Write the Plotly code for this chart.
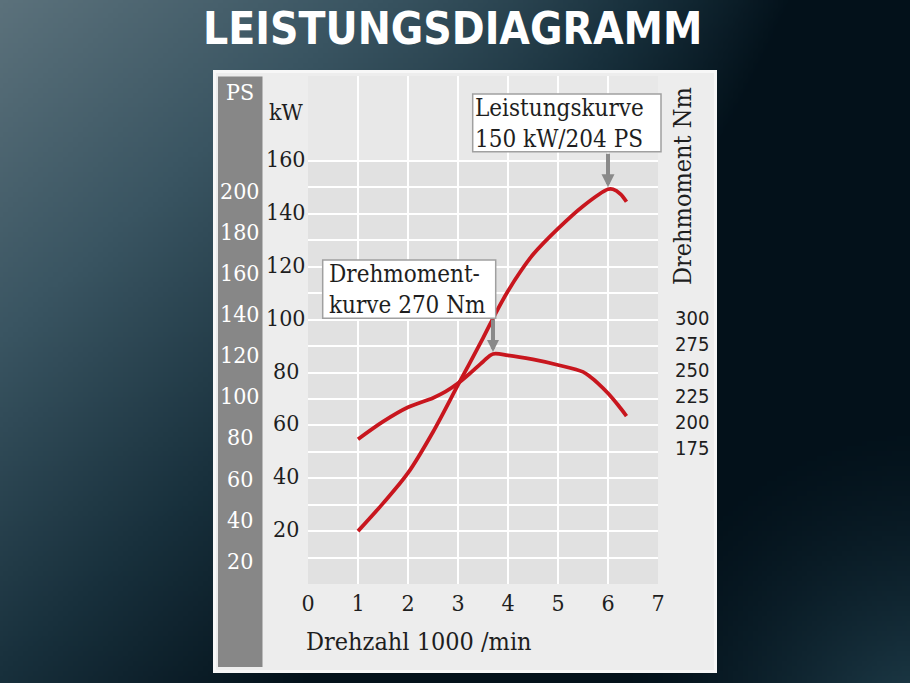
import base64, struct, zlib
import numpy as np
import plotly.graph_objects as go

# ---------------- data ----------------
rpm_power = [1.0, 1.5, 2.0, 2.5, 3.0, 3.5, 3.75, 4.0, 4.25, 4.5, 5.0, 5.5, 6.0, 6.1, 6.25, 6.37]
power_kw = [20.0, 30.5, 42.0, 57.5, 75.3, 93.0, 102.3, 110.8, 118.2, 124.6, 134.4, 142.9, 149.3, 149.3, 147.5, 144.6]

rpm_torque = [1.0, 1.5, 2.0, 2.5, 2.75, 3.0, 3.25, 3.5, 3.7, 4.0, 4.5, 5.0, 5.5, 5.65, 5.8, 6.0, 6.2, 6.37]
torque_nm = [183.7, 200.6, 214.4, 223.4, 229.4, 237.5, 247.5, 258.3, 265.7, 264.4, 260.4, 255.1, 248.5,
             243.5, 237.5, 227.9, 216.6, 206.0]

x_ticks = [0, 1, 2, 3, 4, 5, 6, 7]
kw_labels = [20, 40, 60, 80, 100, 120, 140, 160]
kw_grid = list(range(0, 161, 10))
ps_labels = [20, 40, 60, 80, 100, 120, 140, 160, 180, 200]
nm_labels = [175, 200, 225, 250, 275, 300]

title_text = "LEISTUNGSDIAGRAMM"
power_note = ["Leistungskurve", "150 kW/204 PS"]
torque_note = ["Drehmoment-", "kurve 270 Nm"]
power_peak = (6.0, 149.3)
torque_peak = (3.7, 265.7)

# ---------------- layout geometry ----------------
FW, FH = 910, 683
L, R, T, B = 308, 252, 76, 99
PW, PH = FW - L - R, FH - T - B


def px(x):
    return (x - L) / PW


def py(y):
    return (FH - B - y) / PH


SERIF = "DejaVu Serif Condensed, DejaVu Serif, serif"
NARROW = "DejaVu Sans Condensed, sans-serif"
TXT = "#1e1e1e"
RED = "#c8161e"

# ---------------- background image ----------------
bw, bh = 182, 137
xs = (np.arange(bw) + 0.5) * FW / bw
ys = (np.arange(bh) + 0.5) * FH / bh
X, Y = np.meshgrid(xs, ys)
f = 1 - X / 1050 - Y / 971 - np.clip((X - 400) / 800, 0, None) ** 2
f = np.clip(f, 0, 1)
stops_f = [0, 0.3, 0.65, 1]
stops_c = np.array([[3, 17, 26], [24, 48, 60], [58, 85, 98], [92, 114, 124]], float)
img = np.stack([np.interp(f, stops_f, stops_c[:, k]) for k in range(3)], -1)
d = np.hypot(X - 930, Y - 740)
g = np.clip(1 - d / 330, 0, 1) ** 1.5
img += g[..., None] * np.array([32, 50, 55])
img = np.clip(img, 0, 255).astype(np.uint8)


def png_bytes(a):
    h, w, _ = a.shape
    raw = b"".join(b"\x00" + a[i].tobytes() for i in range(h))

    def chunk(t, dd):
        return struct.pack(">I", len(dd)) + t + dd + struct.pack(">I", zlib.crc32(t + dd) & 0xFFFFFFFF)

    return (b"\x89PNG\r\n\x1a\n" + chunk(b"IHDR", struct.pack(">IIBBBBB", w, h, 8, 2, 0, 0, 0))
            + chunk(b"IDAT", zlib.compress(raw, 9)) + chunk(b"IEND", b""))


bg_src = "data:image/png;base64," + base64.b64encode(png_bytes(img)).decode()

# ---------------- figure ----------------
fig = go.Figure()
fig.add_trace(go.Scatter(x=rpm_torque, y=torque_nm, yaxis="y2", mode="lines",
                         line=dict(color=RED, width=3.8, shape="spline", smoothing=0.9),
                         hoverinfo="skip", showlegend=False))
fig.add_trace(go.Scatter(x=rpm_power, y=power_kw, yaxis="y", mode="lines",
                         line=dict(color=RED, width=3.8, shape="spline", smoothing=0.9),
                         hoverinfo="skip", showlegend=False))
fig.add_trace(go.Scatter(x=[], y=[], yaxis="y3", mode="lines", showlegend=False, hoverinfo="skip"))

shapes = [
    dict(type="rect", xref="paper", yref="paper", x0=px(213), x1=px(717), y0=py(673), y1=py(70),
         fillcolor="#f7f7f7", line=dict(width=0), layer="below"),
    dict(type="rect", xref="paper", yref="paper", x0=px(216), x1=px(714), y0=py(670), y1=py(73),
         fillcolor="#ededed", line=dict(width=0), layer="below"),
    dict(type="rect", xref="paper", yref="paper", x0=px(218), x1=px(262.5), y0=py(667), y1=py(76.5),
         fillcolor="#878787", line=dict(width=0), layer="below"),
    dict(type="rect", xref="paper", yref="paper", x0=0, x1=1, y0=0, y1=1,
         fillcolor="#e8e8e8", line=dict(width=0), layer="below"),
    dict(type="rect", xref="x", yref="y", x0=x_ticks[0], x1=x_ticks[-1], y0=kw_grid[0], y1=kw_grid[-1],
         fillcolor="#e1e1e1", line=dict(width=0), layer="below"),
    # annotation boxes
    dict(type="rect", xref="paper", yref="paper", x0=px(472.7), x1=px(661), y0=py(151.7), y1=py(94),
         fillcolor="white", line=dict(color="#a0a0a0", width=1.5), layer="above"),
    dict(type="rect", xref="paper", yref="paper", x0=px(322.7), x1=px(495.7), y0=py(318.3), y1=py(260),
         fillcolor="white", line=dict(color="#a0a0a0", width=1.5), layer="above"),
]

ann = []
ann.append(dict(text=title_text, xref="paper", yref="paper", x=px(452.5), y=py(0.5),
                xanchor="center", yanchor="top", showarrow=False,
                font=dict(family="DejaVu Sans Condensed, DejaVu Sans, sans-serif", size=44,
                          color="white", weight="bold")))
ann.append(dict(text="PS", xref="paper", yref="paper", x=px(239.5), y=py(92), xanchor="center",
                yanchor="middle", showarrow=False, font=dict(family=SERIF, size=23, color="white")))
for v in ps_labels:
    ann.append(dict(text=str(v), xref="paper", yref="y3", x=px(240), y=v, xanchor="center",
                    yanchor="middle", showarrow=False, font=dict(family=SERIF, size=23, color="white")))
ann.append(dict(text="kW", xref="paper", yref="paper", x=px(286), y=py(112), xanchor="center",
                yanchor="middle", showarrow=False, font=dict(family=SERIF, size=23, color=TXT)))
for v in kw_labels:
    ann.append(dict(text=str(v), xref="paper", yref="y", x=px(285.5), y=v, yshift=2, xanchor="center",
                    yanchor="middle", showarrow=False, font=dict(family=SERIF, size=23, color=TXT)))
ann.append(dict(text="Drehmoment Nm", xref="paper", yref="paper", x=px(683), y=py(186), textangle=-90,
                xanchor="center", yanchor="middle", showarrow=False,
                font=dict(family=SERIF, size=25, color=TXT)))
ann.append(dict(text="Drehzahl 1000 /min", xref="paper", yref="paper", x=px(304), y=py(641),
                xanchor="left", yanchor="middle", showarrow=False,
                font=dict(family=SERIF, size=25, color=TXT)))

# box texts: two-line annotations placed inside the drawn boxes
BOX_FONT = 24
ASC = 0.928 * BOX_FONT
for lines, base1, x0 in ((power_note, 116.5, 475.0), (torque_note, 282.5, 329.0)):
    ann.append(dict(text="<br>".join(lines), xref="paper", yref="paper", x=px(x0), y=py(base1 - ASC),
                    xanchor="left", yanchor="top", align="left",
                    borderpad=0, borderwidth=0, showarrow=False,
                    font=dict(family=SERIF, size=BOX_FONT, color=TXT)))
# arrows
ann.append(dict(text="", x=power_peak[0], y=power_peak[1], xref="x", yref="y", ax=0, ay=-37,
                showarrow=True, arrowhead=2, arrowsize=0.65, arrowwidth=4, arrowcolor="#8a8a8a",
                standoff=2))
ann.append(dict(text="", x=torque_peak[0], y=torque_peak[1], xref="x", yref="y2", ax=0, ay=-36,
                showarrow=True, arrowhead=2, arrowsize=0.6, arrowwidth=4, arrowcolor="#8a8a8a",
                standoff=2))

fig.update_layout(
    width=FW, height=FH, autosize=False,
    margin=dict(l=L, r=R, t=T, b=B, pad=0),
    paper_bgcolor="#0a1a24", plot_bgcolor="rgba(0,0,0,0)",
    showlegend=False,
    xaxis=dict(range=[0, 7], tickvals=x_ticks, showgrid=True, gridcolor="white", gridwidth=2,
               zeroline=False, showline=False, ticks="", ticklabelstandoff=3,
               tickfont=dict(family=SERIF, size=23, color=TXT), fixedrange=True),
    yaxis=dict(range=[0, 508 / 2.64375], tickvals=kw_grid, showgrid=True, gridcolor="white", gridwidth=2,
               zeroline=False, showline=False, ticks="", showticklabels=False, fixedrange=True),
    yaxis2=dict(overlaying="y", side="right", anchor="x", range=[44.5, 533.0], tickvals=nm_labels,
                showgrid=False, zeroline=False, showline=False, ticks="", ticklabelstandoff=16,
                tickfont=dict(family=NARROW, size=20, color=TXT), fixedrange=True),
    yaxis3=dict(overlaying="y", anchor="x", range=[8.66, 255.9], showgrid=False, zeroline=False,
                showline=False, showticklabels=False, ticks="", fixedrange=True),
    shapes=shapes,
    annotations=ann,
    images=[dict(source=bg_src, xref="paper", yref="paper", x=px(0), y=py(0),
                 sizex=FW / PW, sizey=FH / PH, xanchor="left", yanchor="top",
                 sizing="stretch", layer="below")],
)

fig.write_html("out.html")
